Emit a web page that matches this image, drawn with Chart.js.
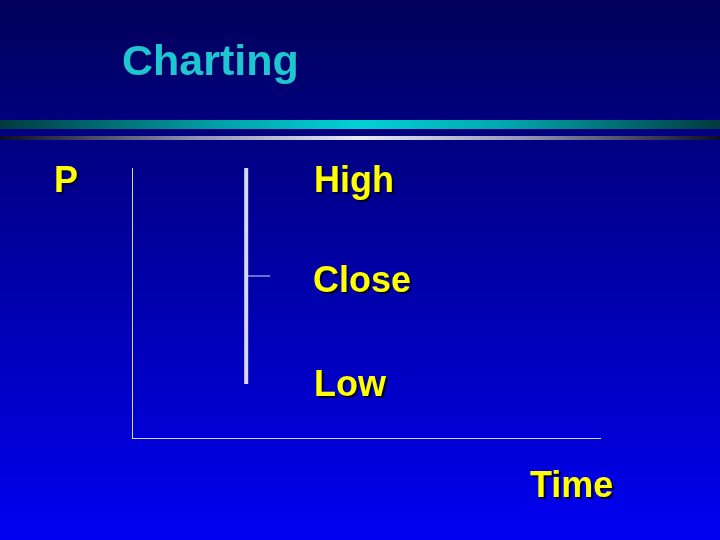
<!DOCTYPE html>
<html>
<head>
<meta charset="utf-8">
<script src="https://cdn.jsdelivr.net/npm/chart.js@4/dist/chart.umd.min.js"></script>
<style>
  html, body { margin: 0; padding: 0; }
  body {
    width: 720px; height: 540px; overflow: hidden; position: relative;
    background: linear-gradient(to bottom, #00005a 0%, #000078 20%, #0000f2 100%);
    font-family: "Liberation Sans", Arial, sans-serif;
  }
  #wrap { position: absolute; left: 0; top: 0; width: 720px; height: 540px; }
  canvas { position: absolute; left: 0; top: 0; }
  .bar1 { position: absolute; left: 0; top: 120px; width: 720px; height: 9px;
    background: linear-gradient(to right, #003a40 0%, #00a0a4 30%, #00d2d6 50%, #00a8ac 70%, #003a40 100%); }
  .bar2 { position: absolute; left: 0; top: 136px; width: 720px; height: 4px;
    background: linear-gradient(to right, #0c0c24 0%, #9494b4 28%, #e8e8f8 50%, #9898b8 72%, #0c0c24 100%); }
  .t { position: absolute; font-weight: bold; line-height: 1; white-space: nowrap; }
  .title { color: #1ec6d0; font-size: 43px; left: 122px; top: 39px; }
  .lab { color: #ffff00; font-size: 36px; text-shadow: 2px 2px 1px #000030; }
</style>
</head>
<body>
<div class="bar1"></div>
<div class="bar2"></div>
<div id="wrap"><canvas id="c" width="720" height="540"></canvas></div>
<div class="t title">Charting</div>
<div class="t lab" style="left:54px; top:162px;">P</div>
<div class="t lab" style="left:314px; top:162px;">High</div>
<div class="t lab" style="left:313px; top:262px;">Close</div>
<div class="t lab" style="left:314px; top:366px;">Low</div>
<div class="t lab" style="left:530px; top:467px;">Time</div>
<script>
// Data: one price bar
const periodX = [24.4];      // time position of the bar
const highValues = [100];
const lowValues = [20];
const closeValues = [60];
const closeTickEnd = [29.5]; // right end of the close tick

const rangeData = [];
const closeData = [];
for (let i = 0; i < periodX.length; i++) {
  rangeData.push({x: periodX[i], y: lowValues[i]}, {x: periodX[i], y: highValues[i]});
  closeData.push({x: periodX[i], y: closeValues[i]}, {x: closeTickEnd[i], y: closeValues[i]});
}

const axisColor = '#d4d4f0';
new Chart(document.getElementById('c'), {
  type: 'line',
  data: {
    datasets: [
      { data: rangeData, borderColor: '#d8d8f0', borderWidth: 4, pointRadius: 0, fill: false },
      { data: closeData, borderColor: '#d8d8f0', borderWidth: 1, pointRadius: 0, fill: false }
    ]
  },
  options: {
    responsive: false,
    animation: false,
    layout: { padding: { left: 132, top: 168, right: 120, bottom: 102 } },
    plugins: { legend: { display: false }, tooltip: { enabled: false }, title: { display: false } },
    scales: {
      x: { type: 'linear', min: 0, max: 100,
           ticks: { display: false },
           grid: { display: false, drawTicks: false, tickLength: 0 },
           border: { display: true, color: axisColor, width: 1 } },
      y: { type: 'linear', min: 0, max: 100,
           ticks: { display: false },
           grid: { display: false, drawTicks: false, tickLength: 0 },
           border: { display: true, color: axisColor, width: 1 } }
    }
  }
});
</script>
</body>
</html>
